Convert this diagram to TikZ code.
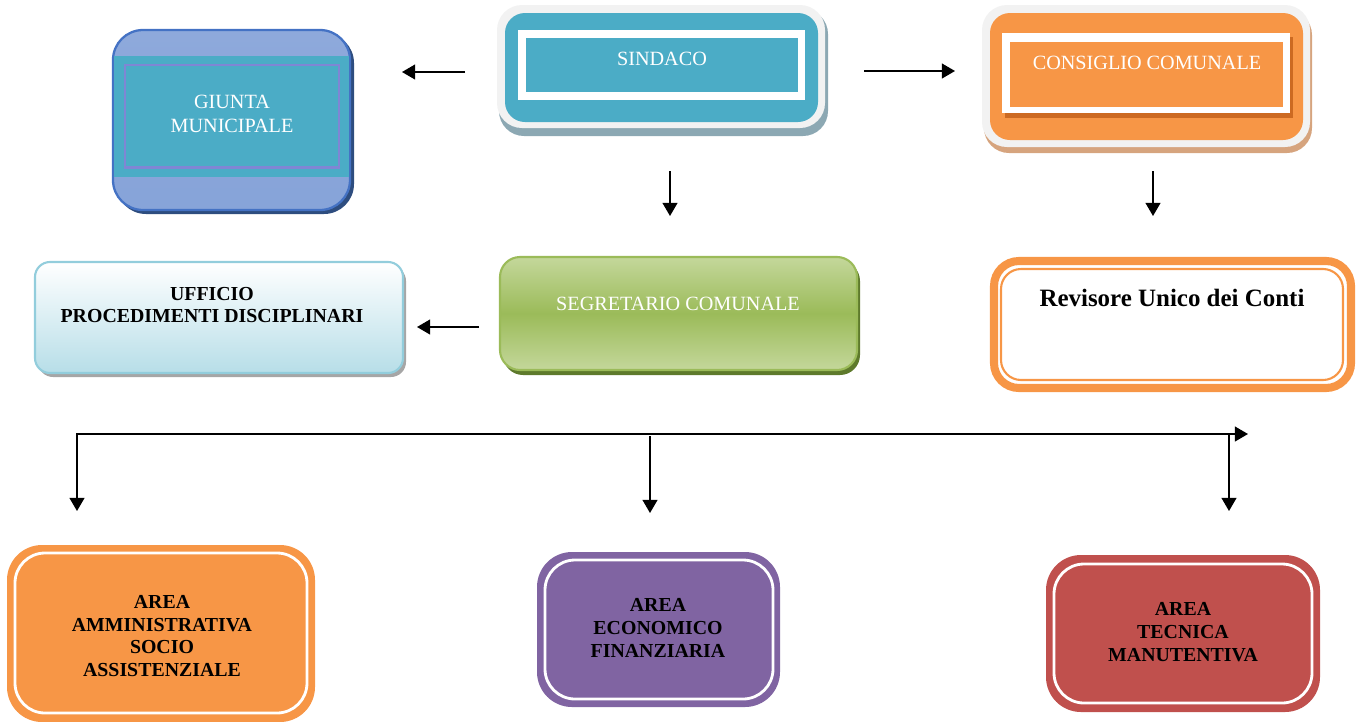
\documentclass[tikz,border=0pt]{standalone}
\usepackage{fontspec}
\setmainfont{Liberation Serif}
\usetikzlibrary{arrows.meta}

\definecolor{aqua}{HTML}{4BACC6}
\definecolor{arancio}{HTML}{F79646}
\definecolor{arancioscuro}{HTML}{CC6A22}
\definecolor{viola}{HTML}{8064A2}
\definecolor{rosso}{HTML}{C0504D}
\definecolor{verde}{HTML}{9BBB59}
\definecolor{verdechiaro}{HTML}{C4D79B}
\definecolor{verdescuro}{HTML}{5E7A2C}
\definecolor{grigio}{HTML}{F2F2F2}
\definecolor{blu}{HTML}{4472C4}
\definecolor{bluchiaro}{HTML}{8EA9DB}
\definecolor{bluscuro}{HTML}{2E4D7F}
\definecolor{lilla}{HTML}{7F86D4}
\definecolor{celeste}{HTML}{92CDDC}
\definecolor{celestechiaro}{HTML}{B7DEE8}
\definecolor{ombrablu}{HTML}{8CA8B3}
\definecolor{ombraarancio}{HTML}{D6A47E}

\tikzset{
  arr/.style={-{Triangle[length=7.5pt,width=8.5pt]}, line width=0.85pt},
  biarr/.style={{Triangle[length=7.5pt,width=8.5pt]}-{Triangle[length=7.5pt,width=8.5pt]}, line width=0.85pt},
  whitetxt/.style={text=white, align=center, font=\fontsize{11.5}{13.5}\selectfont},
  boldtxt/.style={text=black, align=center, font=\bfseries\fontsize{11.3}{13}\selectfont},
  areabox/.style={rounded corners=0.7cm},
  arealine/.style={draw=white, line width=1.6pt, rounded corners=0.6cm},
}

\begin{document}
\begin{tikzpicture}[x=0.02cm,y=-0.02cm]
\useasboundingbox (0,0) rectangle (1359,721);

% giunta
\fill[bluscuro, rounded corners=0.6cm] (116,33) rectangle (354,214);
\shade[top color=bluchiaro, bottom color=bluchiaro!90!blu, draw=blu, line width=1.3pt, rounded corners=0.6cm] (113,30) rectangle (350,210);
\fill[aqua] (114,56) rectangle (349,177);
\draw[lilla, line width=1.7pt] (125,65) rectangle (339,167);
\node[whitetxt] (giunta) at (232,114) {GIUNTA\\MUNICIPALE};

% sindaco
\fill[ombrablu, rounded corners=0.5cm] (499,9) rectangle (828,136);
\fill[grigio, rounded corners=0.5cm] (497,5) rectangle (825,128);
\fill[aqua, rounded corners=0.4cm] (505,13) rectangle (818,122);
\fill[white] (518,30) rectangle (805,100);
\fill[aqua] (526,38) rectangle (798,92);
\node[whitetxt] (sindaco) at (662,59) {SINDACO};

% consiglio
\fill[ombraarancio, rounded corners=0.5cm] (984,10) rectangle (1312,153);
\fill[grigio, rounded corners=0.5cm] (982,5) rectangle (1310,147);
\fill[arancio, rounded corners=0.4cm] (990,13) rectangle (1303,140);
\fill[arancioscuro] (1005,37) rectangle (1293,118);
\fill[white] (1002,33) rectangle (1290,113);
\fill[arancio] (1010,42) rectangle (1283,107);
\node[whitetxt] (consiglio) at (1147,63) {CONSIGLIO COMUNALE};

% ufficio
\fill[gray!70, rounded corners=0.3cm] (38,266) rectangle (406,377);
\shade[top color=white, bottom color=celestechiaro, draw=celeste, line width=1.2pt, rounded corners=0.3cm] (35,262) rectangle (403,373);
\node[boldtxt] (ufficio) at (212,305) {UFFICIO\\PROCEDIMENTI DISCIPLINARI};

% segretario
\fill[verdescuro, rounded corners=0.4cm] (503,261) rectangle (860,375);
\shade[top color=verdechiaro, bottom color=verdechiaro, middle color=verde, draw=verde, line width=1.2pt, rounded corners=0.4cm] (500,257) rectangle (857,370);
\node[whitetxt] (segretario) at (678,304) {SEGRETARIO COMUNALE};

% revisore
\draw[arancio, line width=4.6pt, rounded corners=0.5cm] (994,261) rectangle (1351,388);
\draw[arancio, line width=1.2pt, rounded corners=0.4cm] (1001,269) rectangle (1343,380);
\node[boldtxt, font=\bfseries\fontsize{14.2}{16}\selectfont] (revisore) at (1172,298) {Revisore Unico dei Conti};

% aree
\fill[arancio, areabox] (7,545) rectangle (315,722);
\draw[arealine] (15,553) rectangle (307,713);
\node[boldtxt] (amministrativa) at (162,636) {AREA\\AMMINISTRATIVA\\SOCIO\\ASSISTENZIALE};

\fill[viola, areabox] (537,552) rectangle (780,707);
\draw[arealine] (545,560) rectangle (773,699);
\node[boldtxt] (economico) at (658,628) {AREA\\ECONOMICO\\FINANZIARIA};

\fill[rosso, areabox] (1046,555) rectangle (1320,712);
\draw[arealine] (1054,564) rectangle (1312,703);
\node[boldtxt] (tecnica) at (1183,632) {AREA\\TECNICA\\MANUTENTIVA};

% frecce
\coordinate (sg0) at (465,72);
\coordinate (sg1) at (402,72);
\coordinate (sc0) at (864,71);
\coordinate (sc1) at (955,71);
\coordinate (ss0) at (670,171);
\coordinate (ss1) at (670,216);
\coordinate (cr0) at (1153,171);
\coordinate (cr1) at (1153,216);
\coordinate (su0) at (479,327);
\coordinate (su1) at (417,327);
\coordinate (busl) at (77,434);
\coordinate (busr) at (1248,434);
\coordinate (d1) at (77,511);
\coordinate (bm) at (650,436);
\coordinate (d2) at (650,513);
\coordinate (br) at (1229,434);
\coordinate (d3) at (1229,511);

\draw[arr] (sg0) -- (sg1);
\draw[arr] (sc0) -- (sc1);
\draw[arr] (ss0) -- (ss1);
\draw[arr] (cr0) -- (cr1);
\draw[arr] (su0) -- (su1);
\draw[biarr] (d1) -- (busl) -- (busr);
\draw[arr] (bm) -- (d2);
\draw[arr] (br) -- (d3);
\end{tikzpicture}
\end{document}
